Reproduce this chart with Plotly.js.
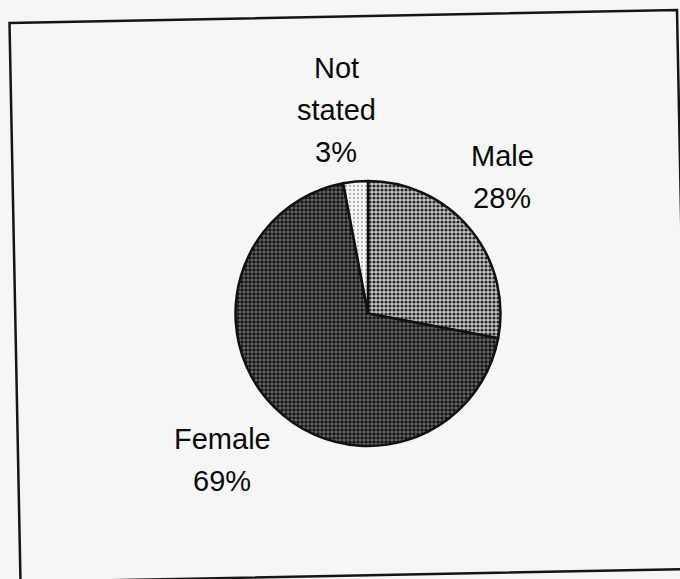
<!DOCTYPE html>
<html>
<head>
<meta charset="utf-8">
<script src="https://cdn.plot.ly/plotly-3.0.1.min.js"></script>
<style>html,body{margin:0;padding:0;background:#f6f6f6;}#chart{width:680px;height:579px;}</style>
</head>
<body>
<div id="chart"></div>
<script>
// Data
const categories = ['Male', 'Female', 'Not stated'];
const values = [28, 69, 3];
const labelLines = [['Male'], ['Female'], ['Not', 'stated']];

const W = 680, H = 579;
const px = x => x / W;
const py = y => 1 - y / H;

// label anchor positions (pixel centre of first line) and line spacing
const labelPos = [[502, 153], [222, 436], [336, 65]];
const lineGap = 42;

const annotations = [];
categories.forEach((c, i) => {
  const lines = labelLines[i].concat([values[i] + '%']);
  lines.forEach((t, j) => {
    annotations.push({
      text: t, showarrow: false, xref: 'paper', yref: 'paper',
      x: px(labelPos[i][0]), y: py(labelPos[i][1] + j * lineGap + 3),
      xanchor: 'center', yanchor: 'middle',
      font: {family: 'Liberation Sans, Arial, sans-serif', size: 29, color: '#0a0a0a'}
    });
  });
});

const cx = 368, cy = 313.5, r = 132.5;

const trace = {
  type: 'pie',
  labels: categories,
  values: values,
  sort: false,
  direction: 'clockwise',
  rotation: 0,
  textinfo: 'none',
  hoverinfo: 'none',
  showlegend: false,
  domain: {x: [px(cx - r), px(cx + r)], y: [py(cy + r), py(cy - r)]},
  marker: {
    colors: ['#8c8c8c', '#404040', '#ececec'],
    line: {color: '#111', width: 2.5},
    pattern: {
      shape: ['.', '.', '.'],
      bgcolor: ['#c6c6c6', '#6c6c6c', '#f7f7f7'],
      fgcolor: ['#262626', '#141414', '#b0b0b0'],
      size: [4, 4, 4],
      solidity: [0.5, 0.6, 0.25],
      fillmode: 'replace'
    }
  }
};

// slightly skewed frame, as in the scan
const frame = [[9.5, 23], [677, 10], [688, 569], [20.5, 582]];
const path = 'M ' + frame.map(p => px(p[0]).toFixed(5) + ',' + py(p[1]).toFixed(5)).join(' L ') + ' Z';

const layout = {
  width: W, height: H,
  margin: {l: 0, r: 0, t: 0, b: 0},
  paper_bgcolor: '#f6f6f6',
  plot_bgcolor: '#f6f6f6',
  annotations: annotations,
  shapes: [{type: 'path', xref: 'paper', yref: 'paper', path: path,
            line: {color: '#151515', width: 2.5}, fillcolor: 'rgba(0,0,0,0)'}]
};

Plotly.newPlot('chart', [trace], layout, {displayModeBar: false, staticPlot: true});
</script>
</body>
</html>
